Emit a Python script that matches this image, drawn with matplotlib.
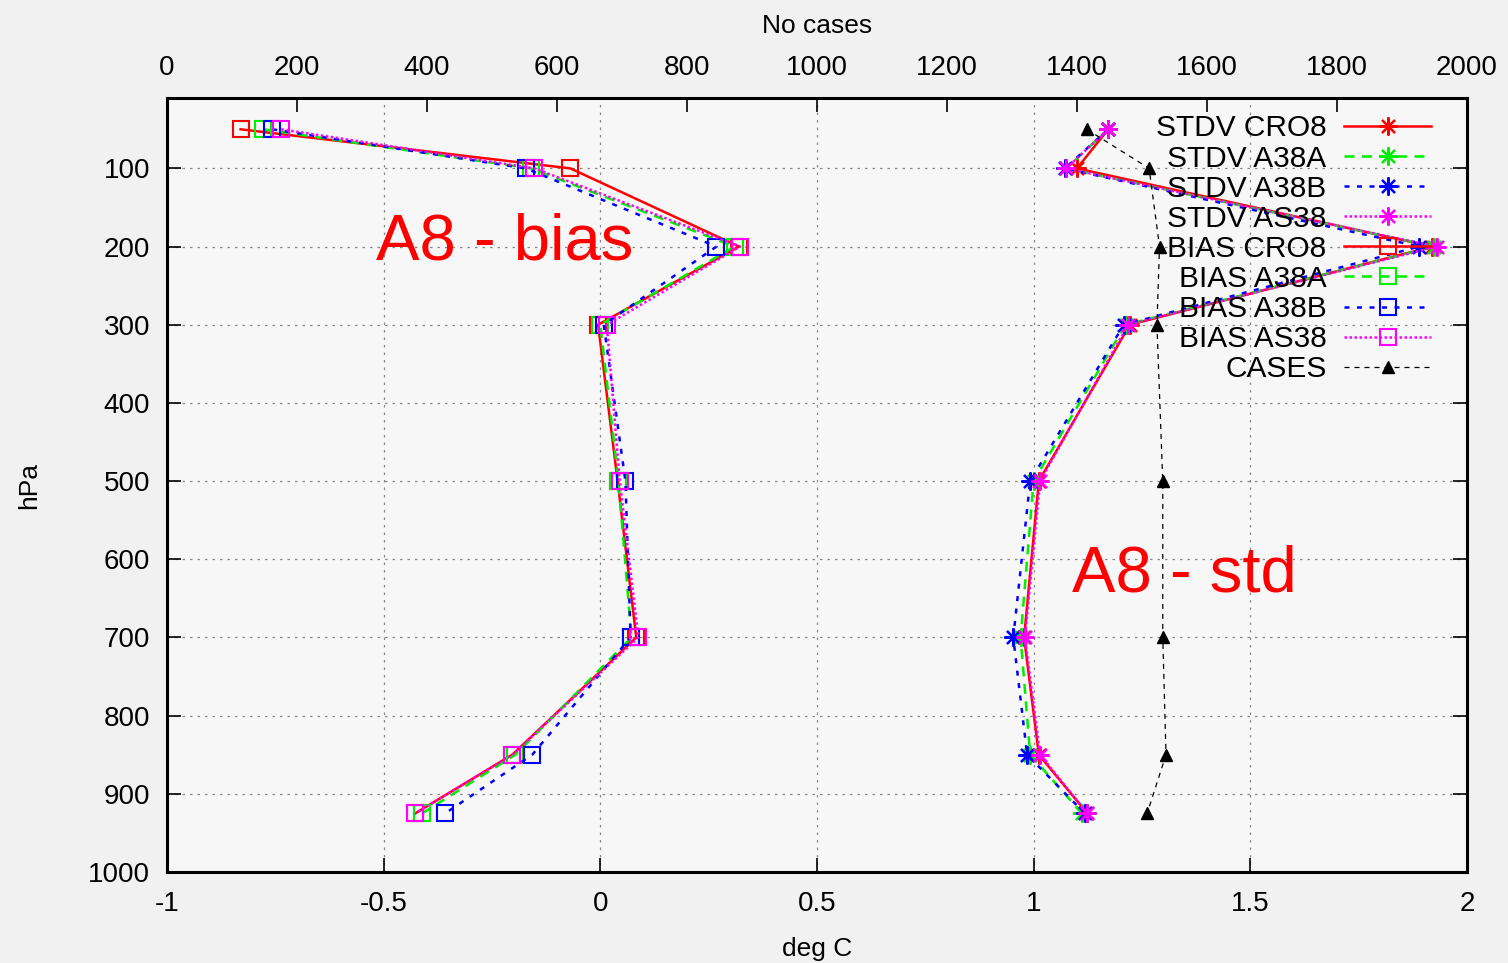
import matplotlib
matplotlib.use("Agg")
import matplotlib.pyplot as plt
import matplotlib.ticker as mticker

plt.rcParams["font.family"] = ["Liberation Sans", "DejaVu Sans"]

# --- data ---
LEVELS = [50, 100, 200, 300, 500, 700, 850, 925]

STDV_CRO8 = [1.172, 1.100, 1.920, 1.222, 1.012, 0.978, 1.012, 1.124]
STDV_A38A = [1.172, 1.075, 1.925, 1.212, 1.000, 0.970, 0.992, 1.112]
STDV_A38B = [1.172, 1.072, 1.890, 1.208, 0.992, 0.953, 0.985, 1.118]
STDV_AS38 = [1.172, 1.075, 1.930, 1.218, 1.015, 0.980, 1.015, 1.124]

BIAS_CRO8 = [-0.830, -0.069, 0.320, -0.005, 0.040, 0.083, -0.203, -0.427]
BIAS_A38A = [-0.778, -0.160, 0.310, 0.000, 0.042, 0.072, -0.196, -0.411]
BIAS_A38B = [-0.757, -0.172, 0.268, 0.008, 0.058, 0.070, -0.157, -0.358]
BIAS_AS38 = [-0.736, -0.152, 0.323, 0.015, 0.045, 0.088, -0.203, -0.427]

CASES = [1415, 1511, 1527, 1523, 1532, 1532, 1537, 1508]

COLORS = {"CRO8": "#ff0000", "A38A": "#00ee00", "A38B": "#0000ff", "AS38": "#ff00ff"}
STYLES = {"CRO8": "-", "A38A": (0, (4, 3)), "A38B": (0, (2, 3)), "AS38": (0, (1, 1))}

fig = plt.figure(figsize=(15.08, 9.63), dpi=100, facecolor="#f1f1f1")
ax = fig.add_axes([0.1107, 0.0945, 0.8621, 0.8037])
ax.set_facecolor("#f7f7f7")

stdv = {"CRO8": STDV_CRO8, "A38A": STDV_A38A, "A38B": STDV_A38B, "AS38": STDV_AS38}
bias = {"CRO8": BIAS_CRO8, "A38A": BIAS_A38A, "A38B": BIAS_A38B, "AS38": BIAS_AS38}

handles = []
for name, vals in stdv.items():
    h, = ax.plot(vals, LEVELS, color=COLORS[name], linestyle=STYLES[name], linewidth=1.8,
                 marker=(8, 2, 0), markersize=13, markeredgewidth=1.6,
                 label=f"STDV {name}")
    handles.append(h)
for name, vals in bias.items():
    h, = ax.plot(vals, LEVELS, color=COLORS[name], linestyle=STYLES[name], linewidth=1.8,
                 marker="s", markersize=11, markerfacecolor="none", markeredgewidth=1.5,
                 label=f"BIAS {name}")
    handles.append(h)

ax.set_xlim(-1, 2)
ax.set_ylim(1000, 10)
ax.set_xticks([-1, -0.5, 0, 0.5, 1, 1.5, 2])
ax.xaxis.set_major_formatter(mticker.FuncFormatter(lambda v, p: f"{v:g}"))
ax.set_yticks(range(100, 1001, 100))
ax.grid(True, color="#888888", linestyle=(0, (2, 4)), linewidth=0.9)
ax.tick_params(direction="in", length=10, width=1.2, labelsize=20, pad=14,
               right=True, top=False)
ax.tick_params(axis="y", pad=12)
ax.set_xlabel("deg C", fontsize=19, labelpad=14)
ax.set_ylabel("hPa", fontsize=19, labelpad=34)
for sp in ax.spines.values():
    sp.set_linewidth(2.2)

ax2 = ax.twiny()
h, = ax2.plot(CASES, LEVELS, color="black", linestyle=(0, (4, 4)), linewidth=0.9,
              marker="^", markersize=9, label="CASES")
handles.append(h)
ax2.set_xlim(0, 2000)
ax2.set_xticks(range(0, 2001, 200))
ax2.tick_params(direction="in", length=10, width=1.2, labelsize=20, pad=12)
ax2.set_xlabel("No cases", fontsize=19, labelpad=16)

ax.text(-0.22, 195, "A8 - bias", color="red", fontsize=47, ha="center", va="center")
ax.text(1.348, 620, "A8 - std", color="red", fontsize=47, ha="center", va="center")

ax2.legend(handles=handles, loc="upper right", frameon=False, markerfirst=False,
           fontsize=21.5, labelspacing=0.07, handlelength=2.9, handletextpad=0.6,
           borderaxespad=0.15, bbox_to_anchor=(0.985, 1.0))
for t in ax2.get_legend().get_texts():
    t.set_ha("right")

fig.savefig("out.png", dpi=100, facecolor=fig.get_facecolor())
